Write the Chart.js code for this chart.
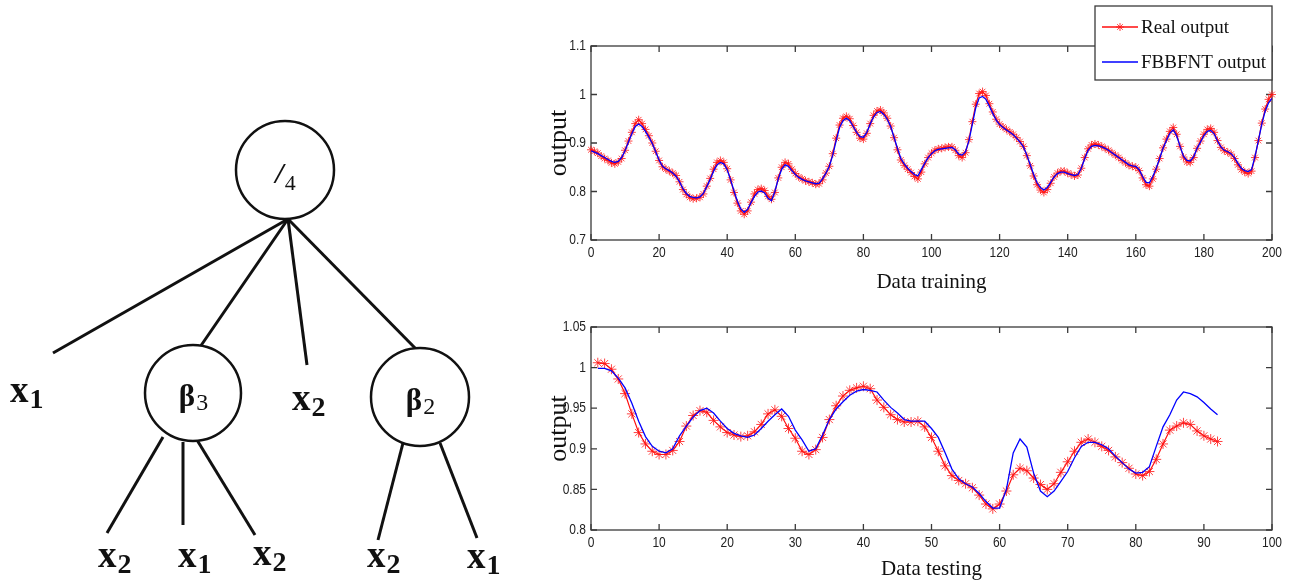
<!DOCTYPE html>
<html>
<head>
<meta charset="utf-8">
<script src="https://cdn.jsdelivr.net/npm/chart.js"></script>
<style>
  body { margin: 0; background: #fff; }
  #wrap { position: relative; width: 1293px; height: 585px; overflow: hidden; }
  canvas { position: absolute; }
</style>
</head>
<body>
<div id="wrap">
  <canvas id="tree" width="540" height="585" style="left:0;top:0"></canvas>
  <canvas id="train" width="753" height="300" style="left:540px;top:0"></canvas>
  <canvas id="test" width="753" height="285" style="left:540px;top:300px"></canvas>
</div>
<script>
// ---- tree diagram (node / edge positions in diagram units) ----
var nodeX = [285, 193, 420];
var nodeY = [170, 393, 397];
var nodeR = [49, 48, 49];
var nodeMain = ['/', '\u03B2', '\u03B2'];
var nodeSub = ['4', '3', '2'];

var edges = [
  [288, 219, 53, 353], [288, 219, 200, 347], [288, 219, 307, 365], [288, 219, 417, 350],
  [163, 437, 107, 533], [183, 442, 183, 525], [197, 440, 255, 535],
  [403, 443, 378, 540], [440, 443, 477, 538]
];

var leafX = [10, 292, 98, 178, 253, 367, 467];
var leafY = [402, 410, 567, 567, 565, 567, 568];
var leafSub = ['1', '2', '2', '1', '2', '2', '1'];

// ---- data training (0..200) ----
var realTrain = [
  0.886,0.883,0.879,0.873,0.868,0.864,0.859,0.857,0.861,0.868,
  0.885,0.904,0.922,0.940,0.948,0.940,0.928,0.915,0.900,0.883,
  0.864,0.851,0.846,0.842,0.838,0.833,0.820,0.804,0.794,0.788,
  0.785,0.786,0.788,0.795,0.811,0.827,0.846,0.860,0.864,0.860,
  0.847,0.824,0.798,0.776,0.760,0.753,0.760,0.778,0.795,0.804,
  0.806,0.802,0.790,0.784,0.798,0.828,0.850,0.860,0.857,0.846,
  0.837,0.830,0.826,0.822,0.820,0.818,0.815,0.816,0.824,0.838,
  0.852,0.878,0.910,0.937,0.951,0.955,0.950,0.936,0.922,0.910,
  0.908,0.920,0.940,0.957,0.966,0.968,0.962,0.951,0.935,0.911,
  0.886,0.865,0.854,0.846,0.839,0.831,0.826,0.840,0.857,0.870,
  0.879,0.885,0.888,0.889,0.891,0.892,0.892,0.885,0.874,0.870,
  0.880,0.907,0.944,0.980,1.002,1.006,0.998,0.981,0.964,0.949,
  0.939,0.933,0.928,0.923,0.918,0.911,0.903,0.893,0.874,0.853,
  0.832,0.814,0.803,0.798,0.804,0.817,0.830,0.838,0.842,0.842,
  0.838,0.835,0.832,0.834,0.848,0.870,0.888,0.896,0.898,0.896,
  0.893,0.889,0.885,0.880,0.875,0.870,0.864,0.859,0.854,0.852,
  0.850,0.843,0.828,0.814,0.811,0.826,0.846,0.868,0.890,0.908,
  0.924,0.932,0.918,0.893,0.871,0.861,0.860,0.870,0.889,0.904,
  0.918,0.928,0.930,0.922,0.905,0.891,0.884,0.881,0.877,0.868,
  0.855,0.845,0.840,0.837,0.842,0.870,0.905,0.941,0.970,0.990,
  1.000
];
var fbbfntTrain = [
  0.884,0.881,0.878,0.874,0.870,0.866,0.862,0.860,0.862,0.870,
  0.884,0.902,0.919,0.934,0.939,0.934,0.924,0.912,0.899,0.882,
  0.865,0.852,0.847,0.843,0.838,0.831,0.820,0.806,0.796,0.790,
  0.788,0.787,0.789,0.796,0.810,0.825,0.842,0.855,0.860,0.857,
  0.845,0.824,0.801,0.780,0.764,0.757,0.763,0.777,0.790,0.799,
  0.801,0.797,0.786,0.781,0.800,0.826,0.846,0.855,0.852,0.843,
  0.835,0.829,0.825,0.822,0.820,0.818,0.816,0.817,0.826,0.838,
  0.852,0.875,0.905,0.932,0.946,0.951,0.946,0.934,0.922,0.913,
  0.912,0.922,0.939,0.954,0.963,0.965,0.959,0.949,0.934,0.912,
  0.889,0.868,0.857,0.848,0.841,0.835,0.832,0.845,0.858,0.870,
  0.878,0.884,0.887,0.888,0.889,0.890,0.891,0.886,0.877,0.875,
  0.882,0.905,0.939,0.973,0.993,0.996,0.990,0.976,0.961,0.947,
  0.938,0.932,0.927,0.922,0.917,0.910,0.902,0.892,0.875,0.855,
  0.835,0.818,0.808,0.803,0.808,0.819,0.830,0.837,0.840,0.840,
  0.837,0.835,0.833,0.835,0.848,0.868,0.885,0.893,0.895,0.894,
  0.892,0.889,0.885,0.880,0.875,0.870,0.865,0.860,0.855,0.853,
  0.852,0.845,0.831,0.819,0.818,0.831,0.848,0.868,0.889,0.905,
  0.920,0.927,0.915,0.893,0.873,0.864,0.863,0.872,0.889,0.902,
  0.915,0.924,0.926,0.919,0.904,0.892,0.885,0.882,0.878,0.870,
  0.858,0.848,0.843,0.841,0.845,0.872,0.905,0.939,0.966,0.983,
  0.992
];

// ---- data testing (1..92) ----
var realTest = [
  1.006,1.005,0.998,0.986,0.968,0.943,0.920,0.906,0.897,0.893,
  0.893,0.898,0.909,0.928,0.941,0.947,0.945,0.935,0.927,0.920,
  0.917,0.915,0.916,0.921,0.930,0.943,0.948,0.940,0.925,0.913,
  0.897,0.893,0.899,0.914,0.936,0.953,0.965,0.972,0.975,0.977,
  0.974,0.960,0.951,0.942,0.936,0.933,0.933,0.934,0.927,0.914,
  0.897,0.879,0.867,0.861,0.857,0.852,0.843,0.832,0.826,0.832,
  0.848,0.868,0.876,0.873,0.864,0.856,0.850,0.857,0.871,0.884,
  0.897,0.908,0.912,0.908,0.903,0.898,0.890,0.883,0.876,0.869,
  0.867,0.872,0.887,0.906,0.923,0.928,0.932,0.930,0.922,0.916,
  0.912,0.909
];
var fbbfntTest = [
  0.999,0.999,0.996,0.987,0.975,0.956,0.934,0.915,0.903,0.897,
  0.895,0.900,0.916,0.928,0.939,0.947,0.950,0.944,0.934,0.925,
  0.919,0.916,0.914,0.917,0.925,0.934,0.942,0.949,0.940,0.923,
  0.911,0.897,0.900,0.917,0.936,0.949,0.958,0.966,0.971,0.973,
  0.972,0.970,0.960,0.951,0.944,0.936,0.934,0.934,0.934,0.925,
  0.914,0.895,0.875,0.863,0.857,0.853,0.845,0.835,0.827,0.827,
  0.850,0.895,0.912,0.902,0.870,0.848,0.841,0.848,0.860,0.872,
  0.889,0.903,0.908,0.908,0.905,0.900,0.891,0.883,0.875,0.870,
  0.871,0.878,0.903,0.927,0.942,0.960,0.970,0.968,0.964,0.957,
  0.949,0.942
];

function toPoints(arr, start) {
  return arr.map(function (v, i) { return { x: i + start, y: v }; });
}

function fmt(v) { return String(+v.toFixed(2)); }

// ---------- tree ----------
var treeDatasets = edges.map(function (e) {
  return {
    type: 'line',
    data: [{ x: e[0], y: e[1] }, { x: e[2], y: e[3] }],
    borderColor: '#111', borderWidth: 3, pointRadius: 0, order: 2
  };
});
treeDatasets.push({
  type: 'scatter',
  data: nodeX.map(function (x, i) { return { x: x, y: nodeY[i] }; }),
  pointRadius: nodeR,
  pointBackgroundColor: '#fff',
  pointBorderColor: '#111',
  pointBorderWidth: 2.5,
  clip: false,
  order: 1
});

var treeText = {
  id: 'treeText',
  afterDraw: function (chart) {
    var ctx = chart.ctx, sx = chart.scales.x, sy = chart.scales.y;
    ctx.save();
    ctx.fillStyle = '#111';
    ctx.textBaseline = 'alphabetic';
    ctx.textAlign = 'left';
    nodeX.forEach(function (x, i) {
      var cx = sx.getPixelForValue(x), cy = sy.getPixelForValue(nodeY[i]);
      var mainFont = i === 0 ? 'italic bold 30px "Liberation Serif"' : 'bold 31px "Liberation Serif"';
      var subFont = i === 0 ? '22px "Liberation Serif"' : '24px "Liberation Serif"';
      ctx.font = mainFont;
      var wm = ctx.measureText(nodeMain[i]).width;
      ctx.font = subFont;
      var ws = ctx.measureText(nodeSub[i]).width;
      var left = cx - (wm + ws) / 2;
      var base = cy + 13;
      ctx.font = mainFont;
      ctx.fillText(nodeMain[i], left, base);
      ctx.font = subFont;
      ctx.fillText(nodeSub[i], left + wm + 1, base + (i === 0 ? 7 : 4));
    });
    leafX.forEach(function (x, i) {
      var px = sx.getPixelForValue(x), py = sy.getPixelForValue(leafY[i]);
      ctx.font = 'bold 37px "Liberation Serif"';
      var w = ctx.measureText('x').width;
      ctx.fillText('x', px, py);
      ctx.font = 'bold 28px "Liberation Serif"';
      ctx.fillText(leafSub[i], px + w + 1, py + 6);
    });
    ctx.restore();
  }
};

new Chart(document.getElementById('tree'), {
  type: 'scatter',
  data: { datasets: treeDatasets },
  options: {
    responsive: false, animation: false, events: [],
    layout: { padding: 0, autoPadding: false },
    plugins: { legend: { display: false }, tooltip: { enabled: false } },
    scales: {
      x: { type: 'linear', min: 0, max: 540, display: false },
      y: { type: 'linear', min: 0, max: 585, reverse: true, display: false }
    }
  },
  plugins: [treeText]
});

// ---------- matlab style frame: box, inward ticks, condensed tick labels ----------
var frame = {
  id: 'frame',
  beforeDatasetsDraw: function (chart) {
    var ctx = chart.ctx, a = chart.chartArea, sx = chart.scales.x, sy = chart.scales.y;
    ctx.save();
    ctx.strokeStyle = '#3a3a3a';
    ctx.lineWidth = 1.3;
    ctx.strokeRect(a.left, a.top, a.right - a.left, a.bottom - a.top);
    ctx.beginPath();
    sx.ticks.forEach(function (t) {
      var p = sx.getPixelForValue(t.value);
      ctx.moveTo(p, a.bottom); ctx.lineTo(p, a.bottom - 6);
      ctx.moveTo(p, a.top); ctx.lineTo(p, a.top + 6);
    });
    sy.ticks.forEach(function (t) {
      var p = sy.getPixelForValue(t.value);
      ctx.moveTo(a.left, p); ctx.lineTo(a.left + 6, p);
      ctx.moveTo(a.right, p); ctx.lineTo(a.right - 6, p);
    });
    ctx.stroke();

    // tick labels, squeezed horizontally like the narrow sans of the original
    var k = 0.8;
    ctx.fillStyle = '#222';
    ctx.font = '15px "Liberation Sans"';
    ctx.textBaseline = 'middle';
    ctx.textAlign = 'center';
    sx.ticks.forEach(function (t) {
      var p = sx.getPixelForValue(t.value);
      ctx.save();
      ctx.translate(p, a.bottom + 13);
      ctx.scale(k, 1);
      ctx.fillText(fmt(t.value), 0, 0);
      ctx.restore();
    });
    ctx.textAlign = 'right';
    sy.ticks.forEach(function (t) {
      var p = sy.getPixelForValue(t.value);
      ctx.save();
      ctx.translate(a.left - 5, p);
      ctx.scale(k, 1);
      ctx.fillText(fmt(t.value), 0, 0);
      ctx.restore();
    });
    ctx.restore();
  }
};

function drawStar(ctx, x, y, r) {
  ctx.beginPath();
  ctx.moveTo(x - r, y); ctx.lineTo(x + r, y);
  ctx.moveTo(x, y - r); ctx.lineTo(x, y + r);
  var d = r * 0.707;
  ctx.moveTo(x - d, y - d); ctx.lineTo(x + d, y + d);
  ctx.moveTo(x - d, y + d); ctx.lineTo(x + d, y - d);
  ctx.stroke();
}

var boxLegend = {
  id: 'boxLegend',
  afterDraw: function (chart) {
    var ctx = chart.ctx, a = chart.chartArea;
    var bw = 177, bh = 74, bx = a.right - bw, by = 6;
    ctx.save();
    ctx.fillStyle = '#fff';
    ctx.fillRect(bx, by, bw, bh);
    ctx.strokeStyle = '#3a3a3a';
    ctx.lineWidth = 1.3;
    ctx.strokeRect(bx, by, bw, bh);
    ctx.font = '19px "Liberation Serif"';
    ctx.textBaseline = 'middle';
    ctx.fillStyle = '#111';
    chart.data.datasets.forEach(function (ds, i) {
      var ry = by + 21 + i * 35;
      ctx.strokeStyle = ds.borderColor;
      ctx.lineWidth = 1.3;
      ctx.beginPath();
      ctx.moveTo(bx + 7, ry); ctx.lineTo(bx + 43, ry);
      ctx.stroke();
      if (ds.pointRadius > 0) {
        ctx.lineWidth = 1;
        ctx.strokeStyle = ds.pointBorderColor;
        drawStar(ctx, bx + 25, ry, 4);
      }
      ctx.fillText(ds.label, bx + 46, ry + 1);
    });
    ctx.restore();
  }
};

function lineChart(id, real, fit, start, opts) {
  return new Chart(document.getElementById(id), {
    type: 'line',
    data: {
      datasets: [{
        label: 'Real output',
        data: toPoints(real, start),
        borderColor: 'rgba(255,0,0,0.95)',
        borderWidth: 1.2,
        pointStyle: 'star',
        pointRadius: opts.marker,
        pointBorderColor: 'rgba(255,20,20,0.8)',
        pointBorderWidth: 1,
        tension: 0,
        clip: false,
        order: 1
      }, {
        label: 'FBBFNT output',
        data: toPoints(fit, start),
        borderColor: '#0000ff',
        borderWidth: 1.3,
        pointRadius: 0,
        tension: 0,
        order: 0
      }]
    },
    options: {
      responsive: false, animation: false, events: [],
      layout: { padding: { top: opts.top, right: 21, left: 0, bottom: 0 }, autoPadding: false },
      plugins: { legend: { display: false }, tooltip: { enabled: false } },
      scales: {
        x: {
          type: 'linear', min: opts.xmin, max: opts.xmax,
          grid: { display: false, drawTicks: false },
          border: { display: false },
          ticks: { stepSize: opts.xstep, display: false },
          title: { display: true, text: opts.xtitle, color: '#111', padding: { top: 0, bottom: opts.tpad }, font: { family: 'Liberation Serif', size: 21 } },
          afterFit: function (s) { s.height = opts.xh; }
        },
        y: {
          type: 'linear', min: opts.ymin, max: opts.ymax,
          grid: { display: false, drawTicks: false },
          border: { display: false },
          ticks: { stepSize: opts.ystep, display: false },
          title: { display: true, text: 'output', color: '#111', padding: { top: 4, bottom: 0 }, font: { family: 'Liberation Serif', size: 26 } },
          afterFit: function (s) { s.width = 51; }
        }
      }
    },
    plugins: opts.legend ? [frame, boxLegend] : [frame]
  });
}

lineChart('train', realTrain, fbbfntTrain, 0, {
  top: 46, xmin: 0, xmax: 200, xstep: 20, ymin: 0.7, ymax: 1.1, ystep: 0.1,
  xtitle: 'Data training', xh: 60, tpad: 5, marker: 4, legend: true
});

lineChart('test', realTest, fbbfntTest, 1, {
  top: 27, xmin: 0, xmax: 100, xstep: 10, ymin: 0.8, ymax: 1.05, ystep: 0.05,
  xtitle: 'Data testing', xh: 55, tpad: 3, marker: 5, legend: false
});
</script>
</body>
</html>
